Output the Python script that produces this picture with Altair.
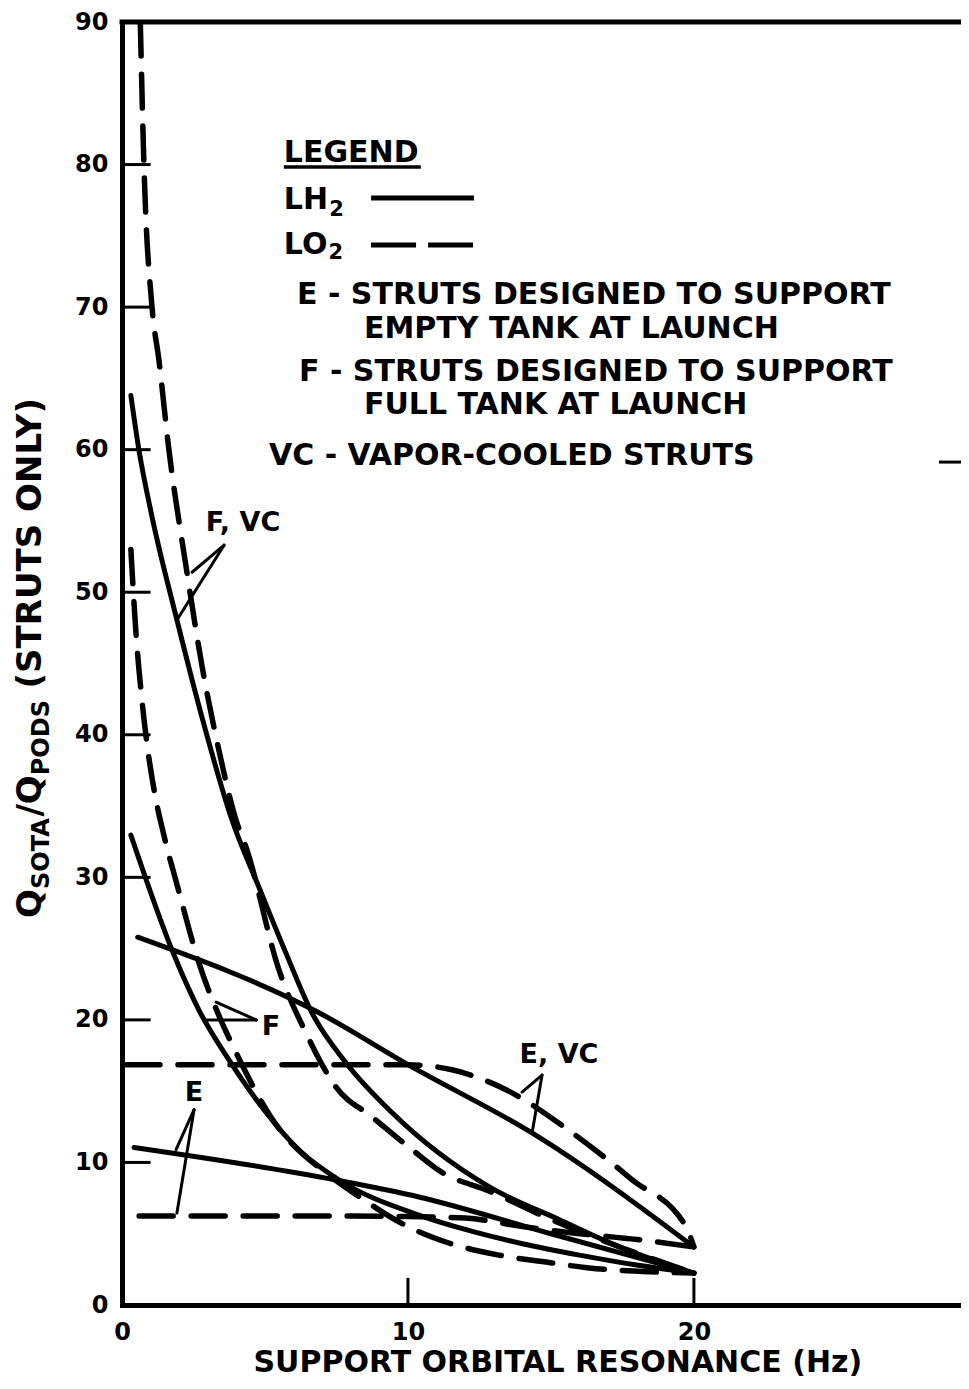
import altair as alt
import pandas as pd

FONT = "DejaVu Sans"
XMAX = 29.34

# ---------------- data ----------------
# LO2 (dashed) curves
fvc_lo2_x = [0.64, 0.77, 1.05, 1.29, 1.64, 2.24, 2.80, 3.39, 3.99, 4.34, 5.49, 6.43, 7.48, 8.74, 10.14, 11.19, 12.83, 15.0, 17.5, 20.0]
fvc_lo2_y = [90.0, 79.8, 70.0, 66.3, 60.0, 51.8, 44.8, 38.9, 34.0, 32.1, 23.5, 19.1, 15.3, 13.2, 10.9, 9.3, 8.0, 6.0, 4.0, 2.24]
f_lo2_x = [0.31, 0.49, 0.70, 1.19, 1.40, 1.99, 2.69, 3.39, 3.99, 5.2, 7.3, 8.29, 10.0, 11.43, 13.18, 15.03, 16.33, 18.2, 20.0]
f_lo2_y = [53.0, 47.1, 42.4, 35.4, 33.5, 29.0, 24.0, 20.3, 17.7, 13.2, 9.0, 7.6, 5.5, 4.35, 3.5, 2.95, 2.6, 2.35, 2.24]
evc_lo2_x = [0.14, 5.0, 10.0, 11.54, 13.43, 15.73, 17.83, 19.72, 20.0]
evc_lo2_y = [16.85, 16.85, 16.85, 16.5, 15.1, 12.1, 8.8, 5.5, 4.07]
e_lo2_x = [0.6, 4.0, 8.0, 10.0, 12.0, 14.0, 16.0, 18.0, 20.0]
e_lo2_y = [6.25, 6.25, 6.25, 6.2, 6.1, 5.5, 5.0, 4.6, 4.07]

# LH2 (solid) curves
fvc_lh2_x = [0.31, 0.59, 1.05, 1.89, 2.80, 3.85, 4.79, 5.73, 6.64, 7.83, 9.44, 12.83, 15.28, 17.5, 20.0]
fvc_lh2_y = [63.8, 60.0, 55.3, 48.3, 41.2, 34.0, 29.3, 24.7, 20.5, 17.0, 13.5, 8.3, 6.0, 4.0, 2.24]
f_lh2_x = [0.31, 1.82, 2.69, 3.74, 4.97, 6.19, 7.59, 10.38, 12.0, 14.0, 16.0, 18.0, 20.0]
f_lh2_y = [32.97, 24.55, 20.69, 17.19, 13.68, 10.87, 8.77, 6.31, 5.3, 4.3, 3.5, 2.8, 2.24]
evc_lh2_x = [0.55, 6.89, 10.14, 14.34, 20.0]
evc_lh2_y = [25.8, 20.5, 16.7, 12.07, 4.07]
e_lh2_x = [0.42, 7.48, 10.38, 15.0, 20.0]
e_lh2_y = [11.05, 8.77, 7.58, 5.0, 2.24]

x_tick_values = [0, 10, 20]
y_tick_values = [0, 10, 20, 30, 40, 50, 60, 70, 80, 90]
inner_y_ticks = [10, 20, 30, 40, 50, 60, 70, 80]
inner_x_ticks = [10, 20]

curves = [
    ("F,VC LO2", "LO2", fvc_lo2_x, fvc_lo2_y),
    ("F LO2", "LO2", f_lo2_x, f_lo2_y),
    ("E,VC LO2", "LO2", evc_lo2_x, evc_lo2_y),
    ("E LO2", "LO2", e_lo2_x, e_lo2_y),
    ("F,VC LH2", "LH2", fvc_lh2_x, fvc_lh2_y),
    ("F LH2", "LH2", f_lh2_x, f_lh2_y),
    ("E,VC LH2", "LH2", evc_lh2_x, evc_lh2_y),
    ("E LH2", "LH2", e_lh2_x, e_lh2_y),
]
rows = []
for name, fluid, xs_, ys_ in curves:
    for a, b in zip(xs_, ys_):
        rows.append({"curve": name, "fluid": fluid, "x": a, "y": b})
df = pd.DataFrame(rows)

# ---------------- scales / axes ----------------
xscale = alt.Scale(domain=[0, XMAX], nice=False, zero=False)
yscale = alt.Scale(domain=[0, 90], nice=False)
xaxis = alt.Axis(values=x_tick_values, title=None, ticks=False, grid=False,
                 domainWidth=5, domainColor="black", domainCap="square",
                 labelFont=FONT, labelFontWeight="bold", labelFontSize=24,
                 labelColor="black", labelPadding=15, labelFlush=False, format="d")
yaxis = alt.Axis(values=y_tick_values, title=None, ticks=False, grid=False,
                 domainWidth=5, domainColor="black", domainCap="square",
                 labelFont=FONT, labelFontWeight="bold", labelFontSize=24,
                 labelColor="black", labelPadding=14, labelFlush=False, format="d")
X = alt.X("x:Q", scale=xscale, axis=xaxis)
Y = alt.Y("y:Q", scale=yscale, axis=yaxis)

solid = alt.Chart(df[df.fluid == "LH2"]).mark_line(
    interpolate="monotone", color="black", strokeWidth=5, strokeCap="round", clip=True
).encode(x=X, y=Y, detail="curve:N")
dashed = alt.Chart(df[df.fluid == "LO2"]).mark_line(
    interpolate="monotone", color="black", strokeWidth=5.5, strokeCap="round",
    strokeDash=[34, 18], clip=True
).encode(x=X, y=Y, detail="curve:N")


def rules(segs, width=3, dash=None, cap="butt"):
    d = pd.DataFrame(segs, columns=["x", "y", "x2", "y2"])
    kw = dict(color="black", strokeWidth=width, strokeCap=cap)
    if dash:
        kw["strokeDash"] = dash
    return alt.Chart(d).mark_rule(**kw).encode(x=X, y=Y, x2="x2:Q", y2="y2:Q")


def label(text, x, y, size=30, align="left", baseline="middle", angle=0):
    d = pd.DataFrame({"x": [x], "y": [y], "t": [text]})
    return alt.Chart(d).mark_text(
        font=FONT, fontWeight="bold", fontSize=size, align=align,
        baseline=baseline, angle=angle, color="black"
    ).encode(x=X, y=Y, text="t:N")


frame = rules([(0, 90, XMAX, 90)], width=5, cap="square")
yticks = rules([(0, v, 1.0, v) for v in inner_y_ticks], width=3)
xticks = rules([(v, 0, v, 1.9) for v in inner_x_ticks], width=3)
stray = rules([(28.57, 59.13, XMAX, 59.13)], width=3)

leaders = rules([
    (3.57, 53.3, 2.45, 51.4), (3.57, 53.3, 1.92, 48.05),
    (4.69, 20.0, 2.97, 20.0), (4.69, 20.0, 3.29, 21.25),
    (2.52, 13.7, 1.89, 10.9), (2.52, 13.7, 1.92, 6.45),
    (14.69, 16.13, 13.99, 14.94), (14.69, 16.13, 14.34, 12.07),
], width=3, cap="round")

legend_lines = rules([(8.71, 77.65, 12.31, 77.65)], width=5)
legend_dash = rules([(8.71, 74.36, 12.31, 74.36)], width=5, dash=[45, 12])
legend_underline = rules([(5.66, 79.83, 10.45, 79.83)], width=3.5)

texts = [
    label("LEGEND", 5.66, 80.8),
    label("LH", 5.66, 77.51),
    label("2", 7.25, 76.8, size=21),
    label("LO", 5.66, 74.36),
    label("2", 7.22, 73.8, size=21),
    label("E - STRUTS DESIGNED TO SUPPORT", 6.12, 70.85),
    label("EMPTY TANK AT LAUNCH", 8.46, 68.45),
    label("F - STRUTS DESIGNED TO SUPPORT", 6.19, 65.42),
    label("FULL TANK AT LAUNCH", 8.46, 63.1),
    label("VC - VAPOR-COOLED STRUTS", 5.14, 59.55),
    label("F, VC", 4.23, 54.85, size=27, align="center"),
    label("F", 5.21, 19.5, size=27, align="center"),
    label("E", 2.52, 14.9, size=27, align="center"),
    label("E, VC", 15.28, 17.54, size=27, align="center"),
    label("SUPPORT ORBITAL RESONANCE (Hz)", 15.24, -4.70, size=30,
          align="center", baseline="alphabetic"),
    # rotated y-axis title with subscripts
    label("Q", -2.85, 27.15, size=34, baseline="alphabetic", angle=270),
    label("SOTA", -2.57, 29.18, size=24, baseline="alphabetic", angle=270),
    label("/Q", -2.85, 34.26, size=34, baseline="alphabetic", angle=270),
    label("PODS", -2.57, 37.16, size=24, baseline="alphabetic", angle=270),
    label("(STRUTS ONLY)", -2.85, 43.25, size=34, baseline="alphabetic", angle=270),
]

chart = alt.layer(
    solid, dashed, frame, yticks, xticks, stray, leaders,
    legend_lines, legend_dash, legend_underline, *texts
).properties(
    width=839, height=1283,
    autosize=alt.AutoSizeParams(type="none"),
    padding={"left": 114, "top": 14, "right": 0, "bottom": 76},
    background="white",
).configure_view(strokeWidth=0)

chart.save("out.html", embed_options={"renderer": "svg", "actions": False})
